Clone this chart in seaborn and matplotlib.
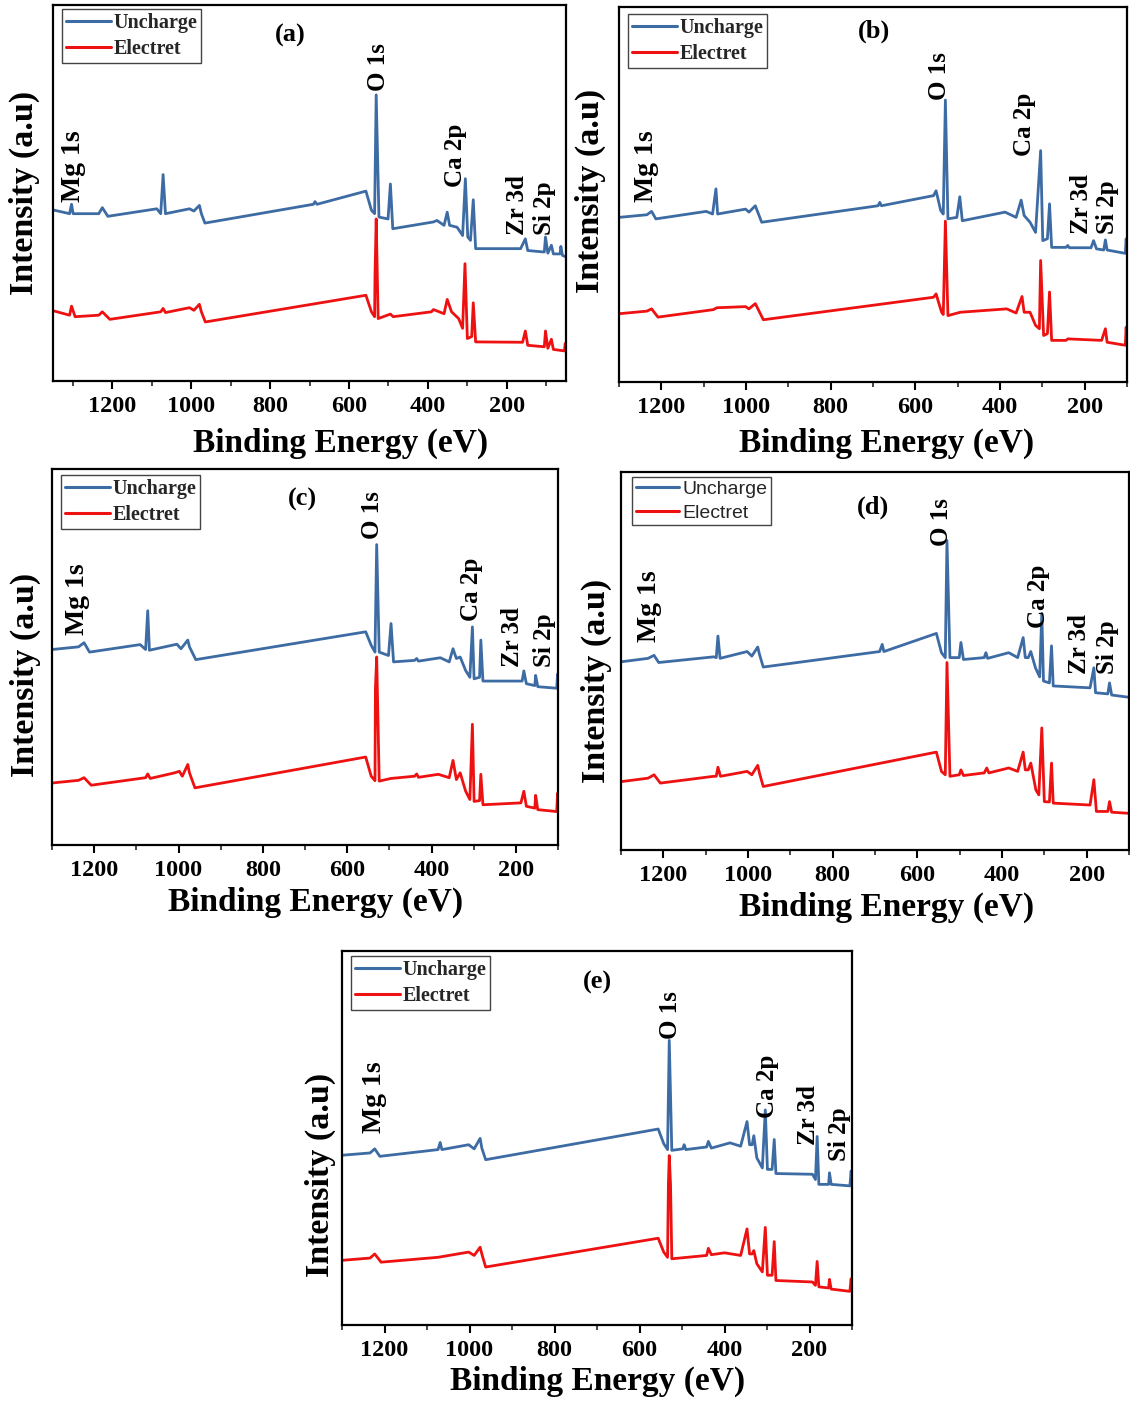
import numpy as np
import pandas as pd
import matplotlib
matplotlib.use("Agg")
import matplotlib.pyplot as plt
from matplotlib.ticker import MultipleLocator, FixedLocator
import seaborn as sns

# ---------------- XPS survey spectra: binding energy (eV) / intensity (a.u.) ----------------
a_unch_E = [1350, 1308, 1303, 1299, 1234, 1225, 1211, 1087, 1077, 1071, 1065, 1004, 993, 979, 974, 965,
            690, 686, 681, 557, 543, 535, 531, 524, 501, 495, 489, 386, 377, 359, 351, 345, 326, 312,
            305, 299, 292, 285, 279, 165, 153, 147, 105, 102, 96, 87, 82, 65, 63, 59, 50]
a_unch_I = [45.5, 44.5, 47.0, 44.5, 44.5, 46.1, 43.8, 45.8, 44.5, 54.9, 44.5, 45.8, 45.2, 46.7, 44.5, 42.0,
            47.0, 47.7, 47.0, 50.5, 45.4, 44.5, 76.1, 43.6, 43.1, 52.4, 40.5, 42.3, 42.7, 41.4, 44.9, 41.4, 40.9, 38.7,
            53.8, 38.3, 37.4, 48.2, 35.2, 35.2, 37.8, 34.7, 34.3, 38.3, 34.0, 36.1, 33.8, 33.8, 35.8, 33.4, 33.0]
a_elec_E = [1350, 1308, 1303, 1294, 1234, 1225, 1206, 1077, 1071, 1065, 1004, 993, 979, 974, 964,
            557, 543, 535, 534, 531, 526, 495, 488, 391, 386, 359, 351, 340, 322, 312,
            306, 300, 289, 285, 279, 160, 153, 147, 105, 102, 96, 87, 82, 54, 52, 50]
a_elec_I = [18.7, 17.5, 19.9, 17.1, 17.5, 18.4, 16.4, 18.4, 19.3, 18.2, 19.5, 18.8, 20.4, 18.4, 15.7,
            22.8, 18.4, 17.1, 28.1, 43.1, 16.6, 17.8, 17.1, 18.4, 19.0, 17.9, 21.7, 18.4, 16.6, 14.0,
            31.2, 11.3, 11.8, 20.8, 10.4, 10.3, 13.3, 9.5, 9.1, 13.3, 8.7, 11.1, 8.4, 8.0, 10.0, 8.0]

b_unch_E = [1300, 1234, 1223, 1213, 1094, 1079, 1071, 1067, 1001, 993, 978, 963, 688, 684, 680,
            557, 551, 540, 534, 529, 523, 502, 495, 489, 388, 362, 350, 343, 329, 316,
            304, 299, 288, 283, 278, 244, 240, 236, 185, 179, 172, 155, 151, 147, 104, 102, 100]
b_unch_I = [43.9, 44.6, 45.5, 43.5, 45.5, 44.8, 51.5, 44.8, 46.1, 45.3, 47.0, 42.6, 47.0, 47.9, 47.0,
            49.7, 51.0, 45.7, 44.8, 75.2, 43.5, 43.9, 49.4, 43.0, 45.3, 43.9, 48.5, 44.4, 42.6, 39.9,
            61.7, 37.7, 38.2, 47.5, 35.9, 35.9, 36.4, 35.8, 35.8, 37.7, 35.5, 35.2, 37.9, 35.2, 34.3, 38.2, 34.3]
b_elec_E = [1300, 1234, 1223, 1208, 1077, 1069, 1001, 993, 978, 959, 557, 551, 538, 534, 529, 523,
            494, 384, 362, 348, 343, 329, 316, 307, 304, 297, 288, 283, 278, 244, 240,
            160, 151, 147, 104, 102, 100]
b_elec_I = [18.2, 18.9, 19.5, 17.3, 19.3, 19.8, 20.1, 19.5, 20.9, 16.6, 22.6, 23.5, 18.6, 18.0, 42.9, 17.7,
            18.6, 19.5, 18.4, 22.8, 18.6, 18.6, 15.1, 14.2, 32.4, 12.4, 12.9, 24.0, 11.1, 11.1, 11.5,
            11.1, 14.2, 10.6, 9.8, 14.6, 9.8]

c_unch_E = [1299, 1237, 1224, 1211, 1091, 1078, 1073, 1069, 1004, 994, 978, 974, 959, 556, 543, 534,
            530, 524, 502, 496, 490, 440, 435, 431, 379, 358, 349, 341, 332, 319, 309,
            303, 299, 286, 283, 278, 185, 181, 175, 155, 153, 148, 103, 101, 100]
c_unch_I = [52.0, 52.7, 53.8, 51.3, 53.3, 52.0, 62.3, 51.8, 53.4, 52.2, 54.5, 52.7, 49.3, 56.7, 53.1, 51.3,
            79.9, 51.3, 50.4, 58.9, 48.7, 49.1, 49.6, 48.9, 49.8, 48.7, 52.2, 49.6, 50.0, 46.4, 44.6,
            58.0, 44.2, 44.6, 54.5, 43.6, 43.6, 46.3, 42.9, 42.4, 45.1, 42.1, 41.7, 45.5, 41.7]
c_elec_E = [1299, 1237, 1224, 1207, 1078, 1073, 1067, 1009, 998, 991, 978, 974, 961, 556, 543, 534,
            533, 530, 524, 496, 440, 435, 431, 384, 358, 349, 341, 332, 319, 309,
            303, 299, 286, 283, 278, 188, 181, 175, 155, 153, 148, 103, 101, 100]
c_elec_I = [16.5, 17.2, 17.9, 15.9, 17.9, 18.9, 17.7, 19.2, 19.6, 18.3, 21.4, 19.2, 15.2, 23.4, 18.3, 17.1,
            41.5, 50.0, 17.0, 17.7, 18.3, 18.9, 18.0, 18.8, 17.9, 22.5, 17.4, 19.2, 14.3, 12.1,
            32.1, 11.6, 11.8, 18.8, 10.7, 11.2, 14.3, 10.3, 9.8, 13.2, 9.4, 8.9, 13.8, 8.9]

d_unch_E = [1299, 1236, 1222, 1211, 1081, 1075, 1071, 1066, 1002, 991, 977, 973, 964, 689, 683, 679,
            555, 543, 534, 530, 523, 501, 497, 491, 442, 438, 434, 384, 363, 350, 345, 338, 332, 321, 311,
            306, 302, 288, 283, 279, 192, 183, 179, 150, 146, 141, 100]
d_unch_I = [49.8, 50.7, 51.5, 49.6, 51.1, 50.9, 56.6, 50.7, 52.5, 51.3, 53.7, 51.8, 48.4, 52.5, 54.4, 52.5,
            57.3, 52.2, 50.9, 81.9, 50.9, 50.9, 54.9, 50.4, 50.9, 52.2, 50.7, 52.2, 50.9, 56.2, 50.9, 50.9, 52.5, 48.2, 45.8,
            62.6, 44.7, 44.2, 54.0, 43.4, 42.9, 48.2, 41.6, 41.3, 44.2, 41.0, 40.4]
d_elec_E = [1299, 1236, 1222, 1207, 1081, 1075, 1071, 1065, 1002, 991, 977, 973, 964, 555, 543, 534,
            530, 523, 501, 497, 491, 442, 436, 431, 384, 363, 350, 345, 338, 332, 320, 313,
            306, 300, 288, 283, 279, 192, 183, 177, 150, 146, 141, 100]
d_elec_I = [18.1, 19.0, 19.9, 17.7, 19.5, 19.5, 21.9, 19.5, 20.8, 19.9, 22.4, 20.4, 16.8, 25.9, 20.8, 19.9,
            49.6, 19.5, 19.9, 21.2, 19.7, 20.4, 21.7, 20.4, 21.7, 20.8, 25.9, 21.2, 21.2, 23.0, 15.9, 14.6,
            32.3, 12.8, 12.7, 23.0, 12.4, 11.9, 18.6, 10.2, 10.2, 12.8, 10.0, 9.7]

e_unch_E = [1299, 1234, 1223, 1211, 1074, 1069, 1065, 1002, 989, 975, 971, 962, 556, 543, 534,
            530, 524, 498, 495, 491, 442, 438, 431, 387, 362, 347, 341, 335, 331, 324, 311,
            304, 299, 288, 283, 279, 193, 186, 182, 178, 155, 153, 149, 105, 102, 100]
e_unch_I = [45.4, 46.0, 47.1, 45.1, 46.9, 48.8, 46.9, 48.2, 47.1, 49.9, 47.3, 44.2, 52.4, 48.5, 46.9,
            76.1, 46.7, 47.1, 48.2, 46.9, 47.6, 49.1, 47.3, 48.7, 47.8, 54.4, 48.2, 48.2, 50.6, 44.7, 42.0,
            57.5, 41.6, 41.6, 49.6, 40.5, 40.3, 38.9, 50.4, 37.6, 37.6, 40.7, 37.6, 37.2, 41.2, 37.2]
e_elec_E = [1299, 1234, 1223, 1208, 1074, 1002, 989, 975, 971, 962, 556, 543, 534,
            532, 530, 527, 524, 442, 438, 431, 400, 362, 347, 341, 335, 331, 324, 311,
            304, 299, 288, 283, 279, 193, 186, 182, 178, 155, 153, 149, 105, 102, 100]
e_elec_I = [17.3, 17.9, 19.0, 16.8, 18.1, 19.5, 18.6, 20.8, 19.0, 15.5, 23.2, 19.5, 18.1,
            37.6, 45.3, 37.6, 17.7, 18.6, 20.5, 18.8, 19.3, 18.6, 25.7, 19.0, 19.0, 19.9, 16.4, 14.2,
            26.1, 13.3, 13.3, 22.3, 11.9, 11.5, 10.6, 17.0, 10.2, 9.9, 12.2, 9.6, 9.0, 12.4, 9.0]

series_names = ["Uncharge", "Electret"]
peak_names = ["Mg 1s", "O 1s", "Ca 2p", "Zr 3d", "Si 2p"]
major_ticks = [1200, 1000, 800, 600, 400, 200]

BLUE = "#3d6ba3"
RED = "#ee1111"

# ---------------- layout (pixel boxes: left, top, right, bottom) ----------------
W, H = 1130, 1402
panels = [
    dict(tag="(a)", box=(53, 5, 566, 381), xlim=(1350, 50),
         unch=(a_unch_E, a_unch_I), elec=(a_elec_E, a_elec_I),
         peaks=[(1299, 47.6), (524, 77.2), (329, 51.5), (174, 38.7), (105, 38.7)],
         tagpos=(750, 91.8), leg=(9, 4), sans_legend=False,
         ylab=(-0.055, 0.5), xlab=(0.561, -0.165)),
    dict(tag="(b)", box=(619, 7, 1127, 382), xlim=(1300, 100),
         unch=(b_unch_E, b_unch_I), elec=(b_elec_E, b_elec_I),
         peaks=[(1234, 47.9), (544, 75.2), (343, 60.3), (208, 39.5), (147, 39.5)],
         tagpos=(697, 93.4), leg=(9, 7), sans_legend=False,
         ylab=(-0.057, 0.509), xlab=(0.526, -0.163)),
    dict(tag="(c)", box=(52, 469, 558, 845), xlim=(1300, 100),
         unch=(c_unch_E, c_unch_I), elec=(c_elec_E, c_elec_I),
         peaks=[(1240, 55.8), (539, 81.4), (306, 59.6), (207, 47.3), (132, 47.3)],
         tagpos=(707, 92.0), leg=(9, 6), sans_legend=False,
         ylab=(-0.053, 0.452), xlab=(0.52, -0.152)),
    dict(tag="(d)", box=(621, 472, 1129, 850), xlim=(1300, 100),
         unch=(d_unch_E, d_unch_I), elec=(d_elec_E, d_elec_I),
         peaks=[(1233, 54.9), (542, 80.5), (314, 58.8), (217, 46.5), (150, 46.5)],
         tagpos=(705, 90.7), leg=(11, 5), sans_legend=True,
         ylab=(-0.049, 0.447), xlab=(0.522, -0.153)),
    dict(tag="(e)", box=(342, 951, 852, 1325), xlim=(1300, 100),
         unch=(e_unch_E, e_unch_I), elec=(e_elec_E, e_elec_I),
         peaks=[(1223, 51.3), (526, 76.5), (299, 55.3), (202, 48.2), (130, 43.8)],
         tagpos=(699, 91.6), leg=(9, 5), sans_legend=False,
         ylab=(-0.043, 0.401), xlab=(0.502, -0.150)),
]

sns.set_theme(style="white")
plt.rcParams["font.family"] = ["Liberation Serif", "DejaVu Serif"]
plt.rcParams["font.weight"] = "bold"
plt.rcParams["axes.labelweight"] = "bold"

fig = plt.figure(figsize=(W / 100, H / 100), dpi=100)
fig.patch.set_facecolor("white")

for p in panels:
    l, t, r, b = p["box"]
    ax = fig.add_axes([l / W, 1 - b / H, (r - l) / W, (b - t) / H])
    ax.set_facecolor("white")

    frames = []
    for name, (E, I) in zip(series_names, [p["unch"], p["elec"]]):
        frames.append(pd.DataFrame({"Binding Energy": E, "Intensity": I, "Sample": name}))
    df = pd.concat(frames, ignore_index=True)

    sns.lineplot(data=df, x="Binding Energy", y="Intensity", hue="Sample",
                 palette={"Uncharge": BLUE, "Electret": RED}, sort=False,
                 estimator=None, linewidth=2.0, ax=ax)

    ax.set_xlim(*p["xlim"])
    ax.set_ylim(0, 100)
    ax.set_yticks([])
    ax.xaxis.set_major_locator(FixedLocator(major_ticks))
    ax.xaxis.set_minor_locator(MultipleLocator(100))
    ax.tick_params(axis="x", which="major", direction="out", length=6, width=1.5,
                   labelsize=17.5, pad=4.5, bottom=True, top=False, colors="black")
    ax.tick_params(axis="x", which="minor", direction="out", length=3.5, width=1.2,
                   bottom=True, top=False)
    for lab in ax.get_xticklabels():
        lab.set_fontweight("bold")
    for sp in ax.spines.values():
        sp.set_visible(True)
        sp.set_linewidth(1.6)
        sp.set_color("black")

    ax.set_xlabel("Binding Energy (eV)", fontsize=24, fontweight="bold", color="black")
    ax.xaxis.set_label_coords(*p["xlab"])
    ax.xaxis.label.set_va("center")
    ax.set_ylabel("Intensity (a.u)", fontsize=24.5, fontweight="bold", color="black")
    ax.yaxis.set_label_coords(*p["ylab"])
    ax.yaxis.label.set_va("center")
    ax.yaxis.label.set_ha("center")

    # legend
    dx, dy = p["leg"]
    handles, labels = ax.get_legend_handles_labels()
    if p["sans_legend"]:
        prop = dict(family=["Liberation Sans", "DejaVu Sans"], weight="normal", size=14)
    else:
        prop = dict(family=["Liberation Serif", "DejaVu Serif"], weight="bold", size=14.5)
    leg = ax.legend(handles, labels, loc="upper left",
                    bbox_to_anchor=(dx / (r - l), 1 - dy / (b - t)), borderaxespad=0,
                    prop=prop, frameon=True, fancybox=False, framealpha=1,
                    edgecolor="#444444", handlelength=2.25, handletextpad=0.15,
                    borderpad=0.18, labelspacing=0.32)
    leg.get_frame().set_linewidth(1.0)
    for h in leg.get_lines():
        h.set_linewidth(2.2)

    # peak assignments
    for name, (xe, yi) in zip(peak_names, p["peaks"]):
        ax.text(xe, yi, name, rotation=90, ha="center", va="bottom",
                fontsize=20 if name == "Mg 1s" else 18, fontweight="bold", color="black")
    ax.text(p["tagpos"][0], p["tagpos"][1], p["tag"], ha="center", va="center",
            fontsize=19, fontweight="bold", color="black")

fig.savefig("out.png", dpi=100, facecolor="white")
